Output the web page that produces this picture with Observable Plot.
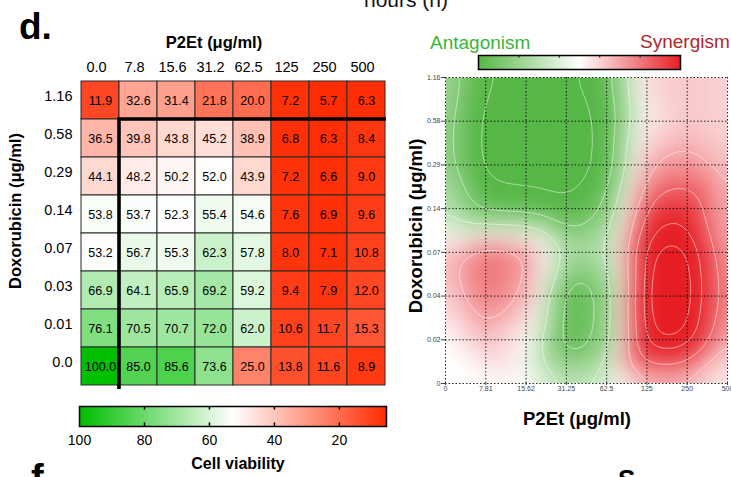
<!DOCTYPE html>
<html>
<head>
<meta charset="utf-8">
<script src="https://cdn.jsdelivr.net/npm/d3@7"></script>
<script src="https://cdn.jsdelivr.net/npm/@observablehq/plot@0.6"></script>
<style>
  html, body { margin: 0; padding: 0; background: #fff; }
  #root { position: relative; width: 731px; height: 477px; overflow: hidden; background: #fff;
          font-family: "Liberation Sans", Arial, Helvetica, sans-serif; }
  .abs { position: absolute; }
  #overlay { position: absolute; left: 0; top: 0; pointer-events: none; }
</style>
</head>
<body>
<div id="root">
  <div id="heat" class="abs" style="left:0;top:0"></div>
  <div id="bar1" class="abs" style="left:0;top:396px"></div>
  <div id="syn" class="abs" style="left:400px;top:0"></div>
  <div id="bar2" class="abs" style="left:470px;top:50px"></div>
  <svg id="overlay" width="731" height="477" font-family="Liberation Sans, Arial, Helvetica, sans-serif">
    <text x="364" y="7" font-size="21" fill="#111">hours  (h)</text>
    <text x="19" y="39" font-size="37" font-weight="bold" fill="#000">d.</text>
    <text x="214" y="48" font-size="16.5" font-weight="bold" text-anchor="middle">P2Et (μg/ml)</text>
    <text transform="translate(21,211) rotate(-90)" font-size="16.5" font-weight="bold" text-anchor="middle">Doxorubicin (μg/ml)</text>
    <text x="238" y="469" font-size="16" font-weight="bold" text-anchor="middle">Cell viability</text>
    <text x="430" y="49" font-size="19" fill="#3bb53b">Antagonism</text>
    <text x="640" y="48" font-size="19" fill="#b0282c">Synergism</text>
    <text transform="translate(422,226) rotate(-90)" font-size="18.5" font-weight="bold" text-anchor="middle">Doxorubicin (μg/ml)</text>
    <text x="577" y="425" font-size="18.5" font-weight="bold" text-anchor="middle">P2Et (μg/ml)</text>
    <text x="31" y="491" font-size="38" font-weight="bold">f</text>
    <text x="618" y="488" font-size="26" font-weight="bold">S</text>
  </svg>
</div>
<script>
// ---------- data: left heatmap (cell viability, %) ----------
const p2etLabels = ["0.0", "7.8", "15.6", "31.2", "62.5", "125", "250", "500"];
const doxoLabels = ["1.16", "0.58", "0.29", "0.14", "0.07", "0.03", "0.01", "0.0"];
const row116 = [11.9, 32.6, 31.4, 21.8, 20.0, 7.2, 5.7, 6.3];
const row058 = [36.5, 39.8, 43.8, 45.2, 38.9, 6.8, 6.3, 8.4];
const row029 = [44.1, 48.2, 50.2, 52.0, 43.9, 7.2, 6.6, 9.0];
const row014 = [53.8, 53.7, 52.3, 55.4, 54.6, 7.6, 6.9, 9.6];
const row007 = [53.2, 56.7, 55.3, 62.3, 57.8, 8.0, 7.1, 10.8];
const row003 = [66.9, 64.1, 65.9, 69.2, 59.2, 9.4, 7.9, 12.0];
const row001 = [76.1, 70.5, 70.7, 72.0, 62.0, 10.6, 11.7, 15.3];
const row000 = [100.0, 85.0, 85.6, 73.6, 25.0, 13.8, 11.6, 8.9];
const viabilityRows = [row116, row058, row029, row014, row007, row003, row001, row000];
const viabilityTicks = [100, 80, 60, 40, 20];

// ---------- data: right synergy map (estimated scores, + synergy / - antagonism) ----------
const synXLabels = ["0", "7.81", "15.62", "31.25", "62.5", "125", "250", "500"];
const synYLabels = ["0", "0.02", "0.04", "0.07", "0.14", "0.29", "0.58", "1.16"];
// rows from top (1.16) to bottom (0)
const syn116 = [-8, -18, -19, -19, -15, 3, 4, 3];
const syn058 = [-9, -20, -21, -21, -17, 1, 4, 3];
const syn029 = [-9, -20, -21, -21, -17, 6, 8, 4];
const syn014 = [-6, -15, -15, -18, -12, 13, 15, 5];
const syn007 = [4, 11, 8, -8, -7, 20, 21, 6];
const syn004 = [3, 10, 6, -16, -12, 22, 22, 7];
const syn002 = [0, 5, 0, -16, -11, 20, 20, 5];
const syn000 = [0, 0, 0, -6, -4, 4, 4, 1];
const synRows = [syn116, syn058, syn029, syn014, syn007, syn004, syn002, syn000];

// ---------- tables ----------
const cells = doxoLabels.flatMap((d, i) => p2etLabels.map((p, j) => ({p, d, v: viabilityRows[i][j]})));
const synPoints = synRows.flatMap((row, r) => row.map((s, c) => ({xi: c, yi: 7 - r, s})));

const FONT = "Liberation Sans, Arial, Helvetica, sans-serif";
const viabilityColor = {type: "linear", domain: [100, 52.5, 5.5], range: ["#00be00", "#ffffff", "#ff2a00"], clamp: true};
const synColor = {type: "linear", domain: [-16, 0, 16], range: ["#56b746", "#ffffff", "#e61e24"], clamp: true};

// L-shaped separator drawn from the band scales
function lMark(index, scales, values, dims) {
  const x0 = scales.x("7.8"), y0 = scales.y("0.58");
  const xr = dims.width - dims.marginRight, yb = dims.height - dims.marginBottom;
  const g = d3.create("svg:path")
    .attr("d", `M${x0},${yb + 2}V${y0}H${xr}`)
    .attr("fill", "none").attr("stroke", "#000").attr("stroke-width", 3.6);
  return g.node();
}

const heat = Plot.plot({
  width: 400, height: 400,
  marginLeft: 79, marginRight: 14, marginTop: 78, marginBottom: 13,
  style: {fontFamily: FONT, fontSize: "14px", color: "#000", background: "transparent"},
  x: {domain: p2etLabels, padding: 0, label: null},
  y: {domain: doxoLabels, padding: 0, label: null},
  color: viabilityColor,
  marks: [
    Plot.cell(cells, {x: "p", y: "d", fill: "v", stroke: "#2a2a2a", strokeWidth: 1, inset: 0}),
    Plot.text(cells, {x: "p", y: "d", text: d => d.v.toFixed(1), fontSize: 12.5, fill: "#000"}),
    Plot.axisX({anchor: "top", tickSize: 0, tickPadding: 7, fontSize: 14.5, dx: -4, label: null}),
    Plot.axisY({anchor: "left", tickSize: 0, tickPadding: 7, fontSize: 14.5, dy: -4, label: null}),
    lMark
  ]
});
document.getElementById("heat").append(heat);

const bar1 = Plot.plot({
  width: 400, height: 81,
  marginLeft: 79, marginRight: 14, marginTop: 10, marginBottom: 51,
  style: {fontFamily: "Liberation Sans Narrow, Arial Narrow, Liberation Sans, Arial, sans-serif", fontSize: "14px", color: "#000", background: "transparent"},
  x: {domain: [100, 5.5]},
  y: {domain: [0, 1], axis: null},
  color: viabilityColor,
  marks: [
    Plot.raster({fill: (x, y) => x, x1: 100, x2: 5.5, y1: 0, y2: 1}),
    Plot.ruleX(viabilityTicks.slice(1), {x: d => d, y1: 0.82, y2: 1, stroke: "#000", strokeWidth: 1.5}),
    Plot.ruleX(viabilityTicks.slice(1), {x: d => d, y1: 0, y2: 0.18, stroke: "#000", strokeWidth: 1.5}),
    Plot.frame({stroke: "#000", strokeWidth: 1.5}),
    Plot.axisX(viabilityTicks, {tickSize: 0, tickPadding: 9, fontSize: 14, label: null})
  ]
});
document.getElementById("bar1").append(bar1);

const gridStyle = {stroke: "#000", strokeOpacity: 0.85, strokeWidth: 1, strokeDasharray: "1.5,2"};
const syn = Plot.plot({
  width: 331, height: 400,
  marginLeft: 45, marginRight: 4, marginTop: 77, marginBottom: 17,
  style: {fontFamily: FONT, fontSize: "7px", color: "#444", background: "transparent"},
  x: {domain: [0, 7]},
  y: {domain: [0, 7]},
  color: synColor,
  marks: [
    Plot.raster(synPoints, {x: "xi", y: "yi", fill: "s", interpolate: "barycentric", blur: 11}),
    Plot.contour(synPoints, {x: "xi", y: "yi", value: "s", interpolate: "barycentric", blur: 6, pixelSize: 2,
      thresholds: [-18, -12, -6, 6, 11, 16, 19], fill: "none", stroke: "#fff", strokeOpacity: 0.5, strokeWidth: 1}),
    Plot.gridX(d3.range(8), gridStyle),
    Plot.gridY(d3.range(8), gridStyle),
    Plot.axisX(d3.range(8), {tickFormat: i => synXLabels[i], tickSize: 2, tickPadding: 1, fontSize: 7, label: null}),
    Plot.axisY(d3.range(8), {tickFormat: i => synYLabels[i], tickSize: 4, tickPadding: 1, fontSize: 7, label: null})
  ]
});
document.getElementById("syn").append(syn);

const synTicks = [-9.6, -3.2, 3.2, 9.6];
const bar2 = Plot.plot({
  width: 220, height: 25,
  marginLeft: 8, marginRight: 10, marginTop: 5, marginBottom: 6,
  style: {background: "transparent"},
  x: {domain: [-16, 16], axis: null},
  y: {domain: [0, 1], axis: null},
  color: synColor,
  marks: [
    Plot.raster({fill: (x, y) => x, x1: -16, x2: 16, y1: 0, y2: 1}),
    Plot.ruleX(synTicks, {x: d => d, y1: 0.8, y2: 1, stroke: "#333", strokeWidth: 1.2}),
    Plot.frame({stroke: "#000", strokeWidth: 1.5})
  ]
});
document.getElementById("bar2").append(bar2);
</script>
</body>
</html>
